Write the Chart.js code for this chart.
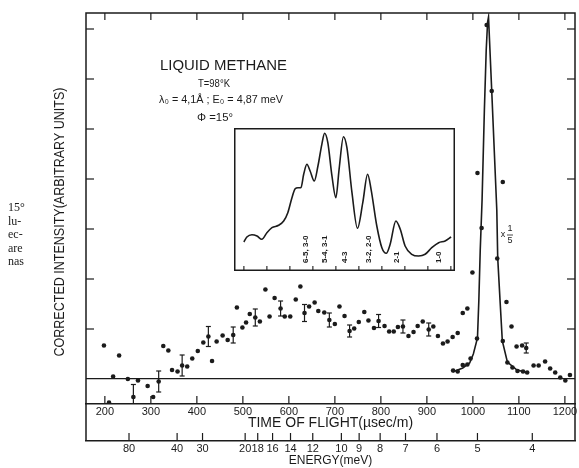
<!DOCTYPE html>
<html>
<head>
<meta charset="utf-8">
<script src="https://cdn.jsdelivr.net/npm/chart.js@4.4.0/dist/chart.umd.min.js"></script>
<style>
  html, body { margin: 0; padding: 0; background: #fff; overflow: hidden; }
  #wrap { position: relative; width: 579px; height: 468px; }
  #main { position: absolute; left: 0; top: 0; }
  #inset { position: absolute; left: 234px; top: 128px; }
</style>
</head>
<body>
<div id="wrap">
  <canvas id="main" width="579" height="468"></canvas>
  <canvas id="inset" width="221" height="143"></canvas>
</div>
<script>
// measured points, time of flight (usec/m) and corrected intensity
const tof = [198, 209, 218, 231, 250, 262, 272, 293, 305, 317, 327, 338, 346, 358, 368, 379, 390, 402, 414, 425,
  433, 443, 456, 467, 479, 487, 499, 507, 515, 527, 537, 549, 558, 569, 582, 591, 603, 615, 625, 634,
  644, 656, 664, 677, 688, 700, 710, 721, 732, 742, 752, 764, 773, 785, 795, 808, 818, 828, 837, 848,
  860, 871, 880, 891, 904, 914, 924, 935, 945, 956, 967, 978, 988, 999, 1010, 1065, 1073, 1084, 1095, 1107,
  1116, 1132, 1143, 1157, 1168, 1179, 1190, 1201, 1211];
const intensity = [0.67, -0.47, 0.05, 0.47, 0.00, -0.36, -0.03, -0.14, -0.36, -0.05, 0.66, 0.57, 0.18, 0.15, 0.27, 0.25, 0.41, 0.56, 0.73, 0.85,
  0.36, 0.75, 0.87, 0.78, 0.88, 1.43, 1.03, 1.13, 1.30, 1.23, 1.15, 1.79, 1.25, 1.62, 1.41, 1.25, 1.25, 1.59, 1.85, 1.32,
  1.45, 1.53, 1.36, 1.33, 1.18, 1.10, 1.45, 1.26, 0.96, 1.01, 1.14, 1.34, 1.17, 1.02, 1.16, 1.06, 0.95, 0.95, 1.04, 1.05,
  0.86, 0.94, 1.06, 1.15, 0.99, 1.05, 0.86, 0.71, 0.75, 0.84, 0.92, 1.32, 1.41, 2.13, 4.12, 3.94, 1.54, 1.05, 0.65, 0.67,
  0.62, 0.27, 0.27, 0.35, 0.21, 0.13, 0.03, -0.03, 0.08];

// error bars (half length) on some of the points above
const errTof = [262, 317, 368, 425, 479, 527, 582, 634, 688, 732, 795, 848, 904, 1116];
const errHalf = [0.25, 0.21, 0.21, 0.20, 0.16, 0.17, 0.15, 0.17, 0.14, 0.12, 0.13, 0.13, 0.13, 0.10];

// elastic peak points plotted x 1/5
const peakTof = [957, 967, 978, 988, 995, 1009, 1019, 1030, 1041, 1053, 1065, 1075, 1086, 1097, 1109, 1118];
const peakIntensity = [0.17, 0.15, 0.28, 0.29, 0.41, 0.81, 3.02, 7.08, 5.76, 2.41, 0.76, 0.33, 0.23, 0.16, 0.15, 0.13];

// line drawn through the elastic peak
const fitTof = [956, 978, 993, 1001, 1010, 1013, 1016, 1020, 1025, 1029, 1032, 1034, 1041, 1052, 1054, 1059, 1064, 1075, 1096, 1118];
const fitIntensity = [0.14, 0.22, 0.32, 0.50, 0.82, 1.58, 2.58, 3.58, 5.38, 6.58, 7.14, 7.24, 5.76, 3.38, 2.42, 1.58, 0.76, 0.34, 0.18, 0.13];

// axis ticks
const tofTicks = [200, 300, 400, 500, 600, 700, 800, 900, 1000, 1100, 1200];
const energyTicks = [80, 40, 30, 20, 18, 16, 14, 12, 10, 9, 8, 7, 6, 5, 4];
const intensityTicks = [0, 1, 2, 3, 4, 5, 6, 7];
const K_TOF = 5.1e6; // E(meV) * t^2

// inset: smoothed spectrum
const insetPos = [0, 0.13, 0.35, 0.57, 0.78, 1.0, 1.22, 1.51, 1.73, 1.91, 2.09, 2.23, 2.35, 2.48, 2.6, 2.74, 2.88, 3.06,
  3.22, 3.39, 3.51, 3.65, 3.83, 4.0, 4.14, 4.33, 4.48, 4.7, 4.94, 5.17, 5.38, 5.53, 5.78, 6.0, 6.19, 6.36,
  6.61, 6.8, 7.01, 7.3, 7.6, 7.88, 8.17, 8.47, 8.75, 9.01];
const insetCurve = [2.9, 3.4, 3.63, 3.5, 3.17, 3.83, 4.33, 4.57, 5.0, 5.83, 7.33, 8.23, 8.33, 8.33, 9.67, 10.67, 10.0, 9.0,
  10.5, 12.67, 13.77, 12.83, 9.5, 7.33, 10.17, 13.43, 12.33, 7.83, 4.27, 6.83, 9.67, 8.17, 4.5, 2.33, 1.77, 2.67,
  5.0, 4.17, 2.5, 1.67, 1.5, 1.67, 2.33, 2.83, 3.0, 3.4];
const insetTicks = [0, 1, 2, 3, 4, 5, 6, 7, 8, 9];
const insetLabels = ['6-5, 3-0', '5-4, 3-1', '4-3', '3-2, 2-0', '2-1', '1-0'];
const insetLabelAt = [2.7, 3.5, 4.4, 5.42, 6.65, 8.47];

const INK = '#1b1b1b';
const SANS = "'Liberation Sans', Arial, sans-serif";

// text squeezed/stretched to a given width, like the lettering on the figure
function fitText(ctx, text, cx, cy, font, width) {
  ctx.save();
  ctx.font = font;
  const w = ctx.measureText(text).width;
  ctx.translate(cx, cy);
  ctx.scale(width / w, 1);
  ctx.textAlign = 'center';
  ctx.textBaseline = 'middle';
  ctx.fillText(text, 0, 0);
  ctx.restore();
}

function seg(ctx, x1, y1, x2, y2) {
  ctx.beginPath();
  ctx.moveTo(x1, y1);
  ctx.lineTo(x2, y2);
  ctx.stroke();
}

const figurePlugin = {
  id: 'figure',
  afterDatasetsDraw(chart) {
    const {ctx, chartArea: a, scales: {x, y}} = chart;
    ctx.save();
    ctx.beginPath();
    ctx.rect(a.left, a.top, a.right - a.left, a.bottom - a.top);
    ctx.clip();
    ctx.strokeStyle = INK;
    ctx.lineWidth = 1.2;
    errTof.forEach((t, k) => {
      const v = intensity[tof.indexOf(t)];
      const px = x.getPixelForValue(t);
      const y1 = y.getPixelForValue(v + errHalf[k]);
      const y2 = y.getPixelForValue(v - errHalf[k]);
      seg(ctx, px, y1, px, y2);
      seg(ctx, px - 2.5, y1, px + 2.5, y1);
      seg(ctx, px - 2.5, y2, px + 2.5, y2);
    });
    ctx.restore();
  },
  afterDraw(chart) {
    const {ctx, chartArea: a, scales: {x, xE, y}} = chart;
    ctx.save();
    ctx.strokeStyle = INK;
    ctx.fillStyle = INK;
    ctx.lineWidth = 1.5;
    ctx.beginPath();
    ctx.moveTo(a.left, xE.top);
    ctx.lineTo(a.left, a.top);
    ctx.lineTo(a.right, a.top);
    ctx.lineTo(a.right, xE.top);
    ctx.stroke();

    // inward ticks on all sides
    ctx.lineWidth = 1.2;
    x.ticks.forEach(t => {
      const px = x.getPixelForValue(t.value);
      seg(ctx, px, a.bottom, px, a.bottom - 8);
      seg(ctx, px, a.top, px, a.top + 7);
    });
    xE.ticks.forEach(t => {
      const px = xE.getPixelForValue(t.value);
      seg(ctx, px, xE.top, px, xE.top - 8);
    });
    y.ticks.forEach(t => {
      if (t.value === 0) return;
      const py = y.getPixelForValue(t.value);
      seg(ctx, a.left, py, a.left + 8, py);
      seg(ctx, a.right, py, a.right - 8, py);
    });

    // y title
    ctx.save();
    ctx.translate(60, 222);
    ctx.rotate(-Math.PI / 2);
    fitText(ctx, 'CORRECTED INTENSITY(ARBITRARY UNITS)', 0, 0, '14px ' + SANS, 269);
    ctx.restore();

    // legend text block
    fitText(ctx, 'LIQUID METHANE', 223.5, 65.5, '15px ' + SANS, 127);
    fitText(ctx, 'T=98°K', 214, 84, '11px ' + SANS, 32);
    fitText(ctx, 'λ₀ = 4,1Å ; E₀ = 4,87 meV', 221, 99.5, '11px ' + SANS, 124);
    fitText(ctx, 'Φ =15°', 215, 118, '11px ' + SANS, 36);

    // x 1/5 mark next to the peak
    ctx.font = '9px ' + SANS;
    ctx.textAlign = 'center';
    ctx.textBaseline = 'middle';
    ctx.fillText('x', 503, 235);
    ctx.fillText('1', 510, 229);
    ctx.fillText('5', 510, 241);
    ctx.lineWidth = 0.8;
    seg(ctx, 507, 235, 513, 235);

    // piece of the neighbouring page text
    ctx.font = '12px "Liberation Serif", serif';
    ctx.textAlign = 'left';
    ctx.textBaseline = 'alphabetic';
    ['15°', 'lu-', 'ec-', 'are', 'nas'].forEach((s, i) => ctx.fillText(s, 8, 211 + i * 13.5));
    ctx.restore();
  }
};

new Chart(document.getElementById('main'), {
  type: 'scatter',
  data: {
    datasets: [
      {
        label: 'measured',
        data: tof.map((t, i) => ({x: t, y: intensity[i]})),
        pointRadius: 2.3,
        pointBackgroundColor: INK,
        pointBorderWidth: 0
      },
      {
        label: 'peak x 1/5',
        data: peakTof.map((t, i) => ({x: t, y: peakIntensity[i]})),
        pointRadius: 2.3,
        pointBackgroundColor: INK,
        pointBorderWidth: 0
      },
      {
        label: 'peak line',
        data: fitTof.map((t, i) => ({x: t, y: fitIntensity[i]})),
        showLine: true,
        pointRadius: 0,
        borderColor: INK,
        borderWidth: 1.6,
        tension: 0
      }
    ]
  },
  options: {
    responsive: false,
    animation: false,
    devicePixelRatio: 1,
    layout: {padding: {top: 13, right: 1, left: 0, bottom: 0}},
    plugins: {legend: {display: false}, tooltip: {enabled: false}},
    scales: {
      x: {
        type: 'linear',
        position: 'bottom',
        min: 159,
        max: 1222,
        afterBuildTicks: s => { s.ticks = tofTicks.map(v => ({value: v})); },
        afterFit: s => { s.height = 37; },
        grid: {display: false, drawTicks: false},
        border: {display: true, color: INK, width: 1.5},
        ticks: {
          color: INK, font: {family: SANS, size: 11}, padding: 1,
          maxRotation: 0, autoSkip: false, callback: v => String(v)
        },
        title: {
          display: true, text: 'TIME OF FLIGHT(µsec/m)', color: INK,
          font: {family: SANS, size: 14}, padding: {top: 0, bottom: 9}
        }
      },
      xE: {
        type: 'linear',
        position: 'bottom',
        min: 159,
        max: 1222,
        afterBuildTicks: s => { s.ticks = energyTicks.map(e => ({value: Math.sqrt(K_TOF / e)})); },
        afterFit: s => { s.height = 27; },
        grid: {display: false, drawTicks: false},
        border: {display: true, color: INK, width: 1.5},
        ticks: {
          color: INK, font: {family: SANS, size: 11}, padding: 1,
          maxRotation: 0, autoSkip: false, callback: (v, i) => String(energyTicks[i])
        },
        title: {
          display: true, text: 'ENERGY(meV)', color: INK,
          font: {family: SANS, size: 12}, padding: {top: 0, bottom: 0}
        }
      },
      y: {
        type: 'linear',
        min: -0.5,
        max: 7.32,
        afterBuildTicks: s => { s.ticks = intensityTicks.map(v => ({value: v})); },
        afterFit: s => { s.width = 86; },
        ticks: {display: false},
        border: {display: false},
        grid: {
          drawTicks: false,
          lineWidth: 1.3,
          color: c => (c.tick && c.tick.value === 0 ? INK : 'rgba(0,0,0,0)')
        }
      }
    }
  },
  plugins: [figurePlugin]
});

const insetPlugin = {
  id: 'insetFrame',
  afterDraw(chart) {
    const {ctx, width, height, scales: {x, y}} = chart;
    ctx.save();
    ctx.strokeStyle = INK;
    ctx.fillStyle = INK;
    ctx.lineWidth = 1.5;
    ctx.strokeRect(0.75, 0.75, width - 1.5, height - 1.5);
    ctx.lineWidth = 1.1;
    insetTicks.forEach(v => {
      const px = x.getPixelForValue(v);
      seg(ctx, px, height - 1, px, height - 5);
    });
    ctx.font = 'bold 8px ' + SANS;
    ctx.textAlign = 'left';
    ctx.textBaseline = 'middle';
    insetLabels.forEach((s, i) => {
      ctx.save();
      ctx.translate(x.getPixelForValue(insetLabelAt[i]), y.getPixelForValue(0.8));
      ctx.rotate(-Math.PI / 2);
      ctx.fillText(s, 0, 0);
      ctx.restore();
    });
    ctx.restore();
  }
};

new Chart(document.getElementById('inset'), {
  type: 'scatter',
  data: {
    datasets: [{
      label: 'inset',
      data: insetPos.map((p, i) => ({x: p, y: insetCurve[i]})),
      showLine: true,
      pointRadius: 0,
      borderColor: INK,
      borderWidth: 1.6,
      cubicInterpolationMode: 'monotone'
    }]
  },
  options: {
    responsive: false,
    animation: false,
    devicePixelRatio: 1,
    layout: {padding: 0},
    plugins: {legend: {display: false}, tooltip: {enabled: false}},
    scales: {
      x: {type: 'linear', display: false, min: -0.43, max: 9.18},
      y: {type: 'linear', display: false, min: 0, max: 14.3}
    }
  },
  plugins: [insetPlugin]
});
</script>
</body>
</html>
